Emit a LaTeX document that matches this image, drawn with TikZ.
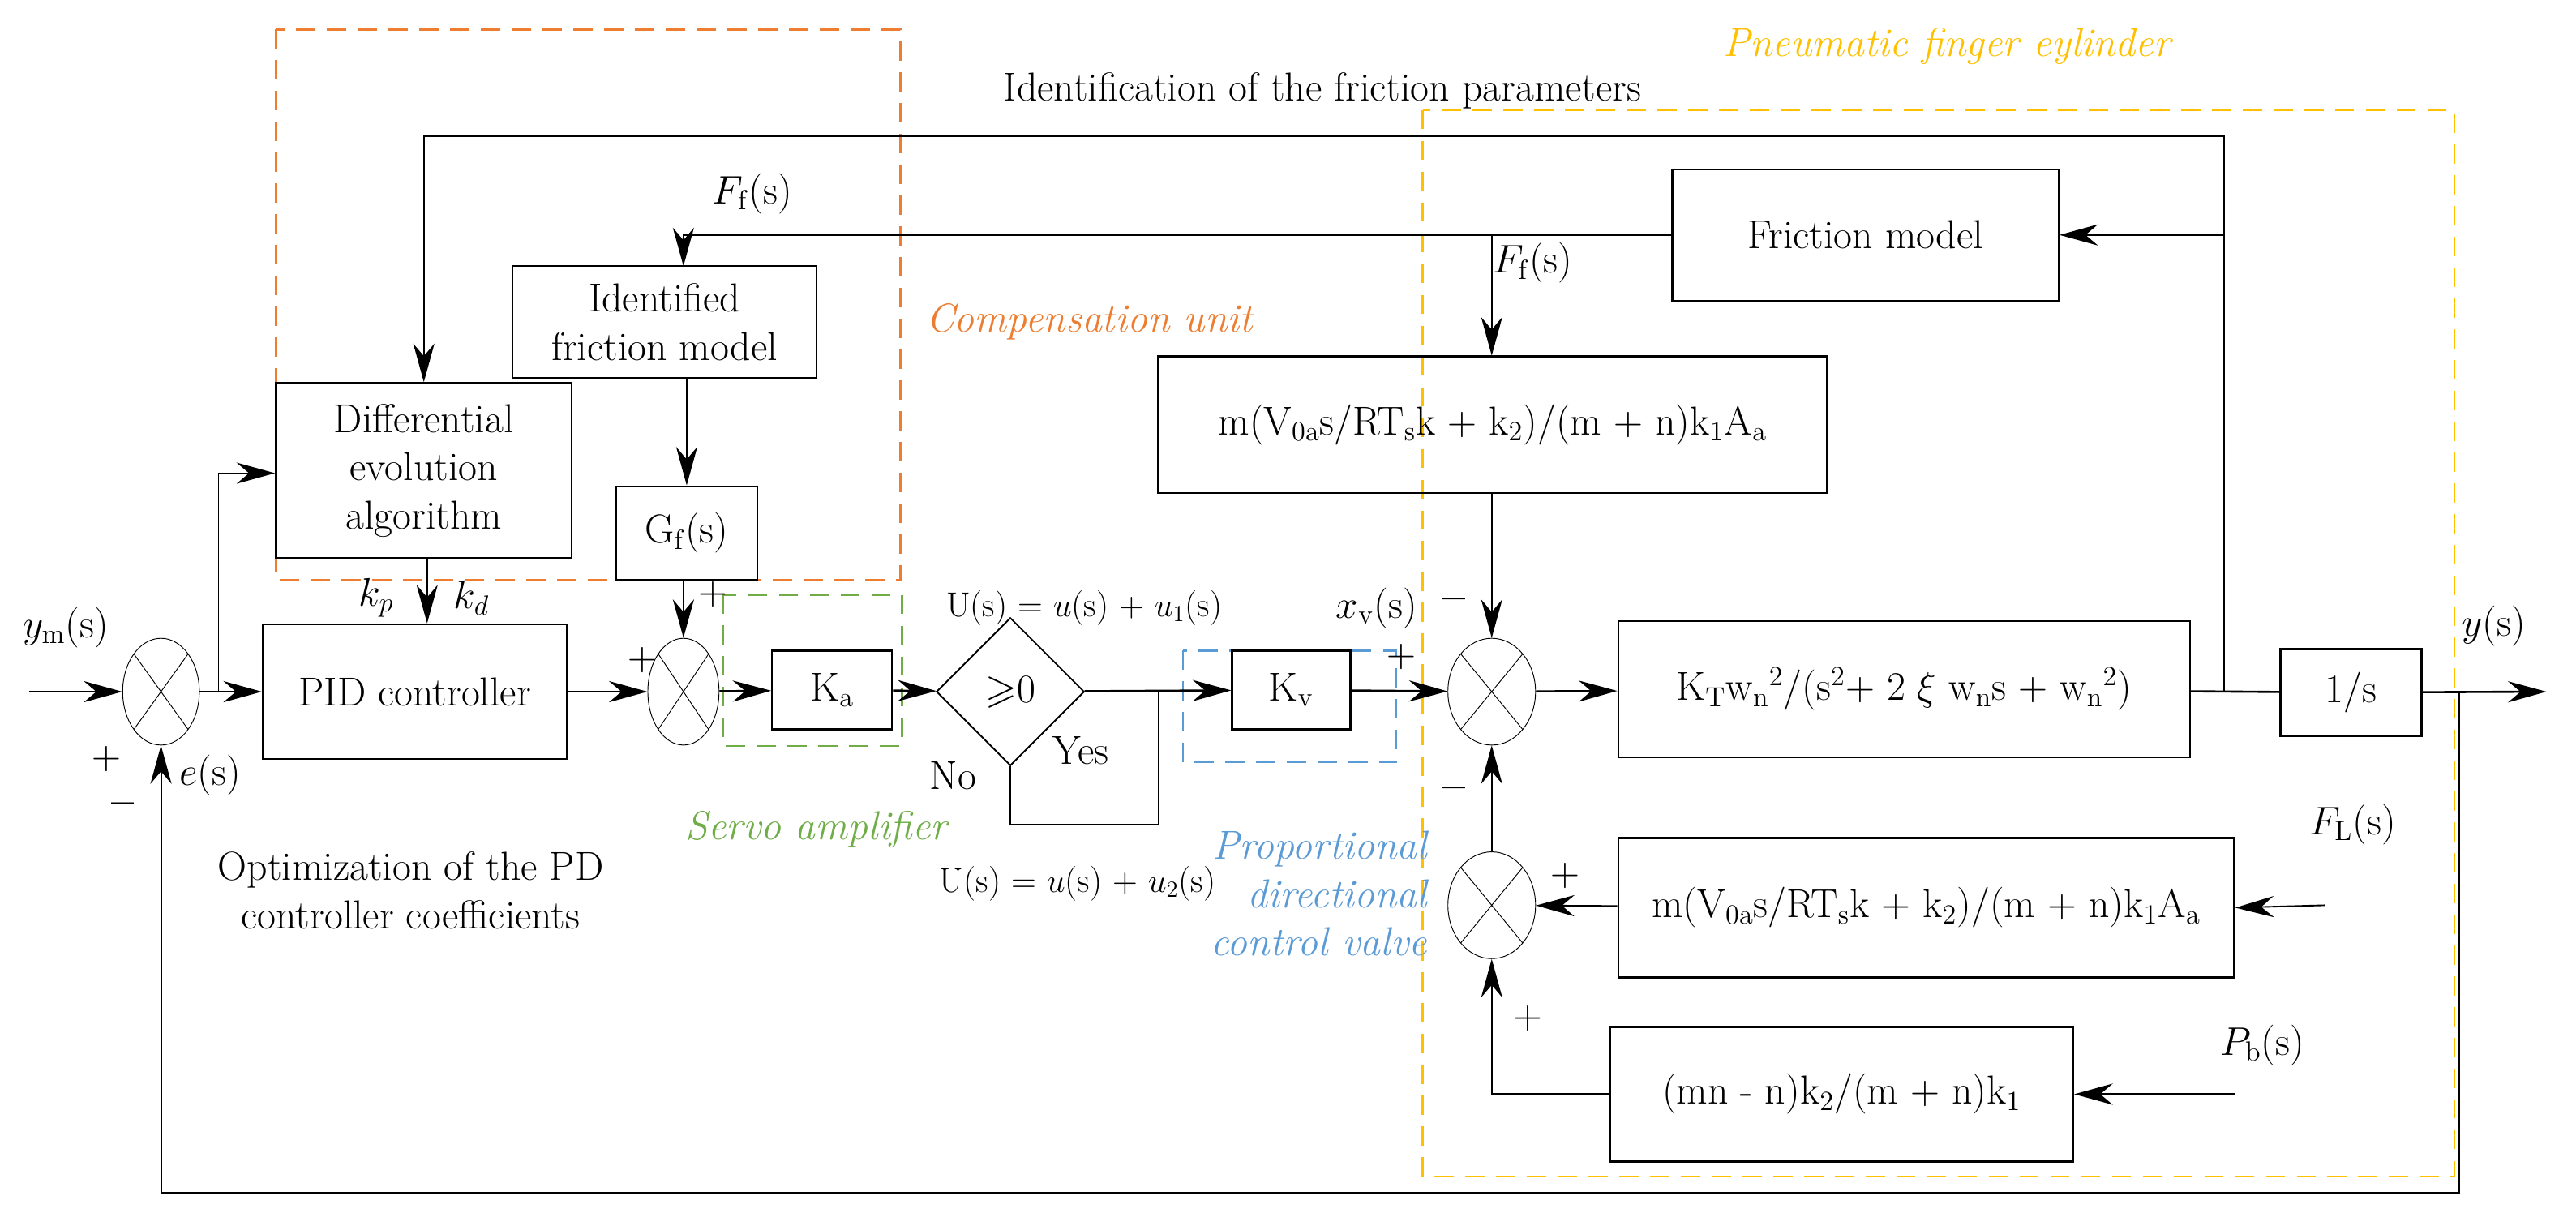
\documentclass[tikz,border=0pt]{standalone}
\usepackage{amssymb}
\usetikzlibrary{arrows.meta,shapes.geometric}
\definecolor{cor}{RGB}{237,125,49}
\definecolor{cgr}{RGB}{112,173,71}
\definecolor{cbl}{RGB}{91,155,213}
\definecolor{cye}{RGB}{255,192,0}
\begin{document}
\begin{tikzpicture}[x=0.03cm,y=-0.03cm,
  font=\fontsize{21}{25}\selectfont,
  blk/.style={draw,line width=1pt,minimum width=#1,align=center,inner sep=0pt},
  sum/.style={draw,ellipse,minimum width=1.4cm,minimum height=1.95cm,inner sep=0pt,
    path picture={\draw (path picture bounding box.north west)--(path picture bounding box.south east)
      (path picture bounding box.north east)--(path picture bounding box.south west);}},
  ar/.style={-{Stealth[length=20pt,width=11pt]},line width=1.1pt},
  ln/.style={line width=0.8pt},
  dsh/.style={dashed,dash pattern=on 10pt off 6pt,line width=1pt},
  lab/.style={inner sep=1pt},
  sm/.style={lab,font=\fontsize{18}{22}\selectfont},
  it/.style={lab,font=\fontsize{21}{25}\selectfont\itshape}]
\useasboundingbox (0,0) rectangle (1568,746);
% dashed regions
\draw[dsh,cor] (168,18) rectangle (548,353);
\draw[dsh,cye] (866,67) rectangle (1494,716);
\draw[dsh,cgr] (440,362) rectangle (549,454);
\draw[dsh,cbl] (720,396) rectangle (850,464);
\node[lab] (title) at (805,55) {Identification of the friction parameters};
\node[it,cye] (tpn) at (1185,28) {Pneumatic finger eylinder};
\node[it,cor] (tcu) at (663,196) {Compensation unit};
\node[it,cgr] (tsa) at (497,505) {Servo amplifier};
\node[it,cbl,align=right,anchor=east] (tpv) at (870,544) {Proportional\\directional\\control valve};
\node[lab,align=center] (topt) at (250,542) {Optimization of the PD\\controller coefficients};
% blocks
\node[sum] (s1) at (98,421) {};
\node[blk=5.55cm,minimum height=2.46cm] (pid) at (252.5,421) {PID controller};
\node[blk=5.4cm,minimum height=3.2cm] (de) at (258,286.5) {Differential\\evolution\\algorithm};
\node[blk=5.55cm,minimum height=2.04cm] (idf) at (404.5,196) {Identified\\friction model};
\node[blk=2.58cm,minimum height=1.71cm] (gf) at (418,324.5) {G$_{\mathrm{f}}$(s)};
\node[sum,minimum width=1.3cm] (s2) at (416,421) {};
\node[blk=2.19cm,minimum height=1.44cm] (ka) at (506.5,420) {K$_{\mathrm{a}}$};
\node[draw,diamond,aspect=1,minimum size=2.7cm,inner sep=0pt,line width=0.8pt] (dia) at (615,421) {$\geqslant$0};
\node[blk=2.16cm,minimum height=1.44cm] (kv) at (786,420) {K$_{\mathrm{v}}$};
\node[sum,minimum width=1.6cm] (s3) at (908,421) {};
\node[blk=12.21cm,minimum height=2.49cm] (b1) at (908.5,258.5) {m(V$_{\mathrm{0a}}$s/RT$_{\mathrm{s}}$k + k$_2$)/(m + n)k$_1$A$_{\mathrm{a}}$};
\node[blk=7.05cm,minimum height=2.4cm] (fm) at (1135.5,143) {Friction model};
\node[blk=10.44cm,minimum height=2.49cm] (kt) at (1159,419.5) {K$_{\mathrm{T}}$w$_{\mathrm{n}}$$^2$/(s$^2$+ 2 $\xi$ w$_{\mathrm{n}}$s + w$_{\mathrm{n}}$$^2$)};
\node[blk=2.58cm,minimum height=1.59cm] (is) at (1431,421.5) {1/s};
\node[sum,minimum width=1.6cm] (s4) at (908,551) {};
\node[blk=11.25cm,minimum height=2.55cm] (b2) at (1172.5,552.5) {m(V$_{\mathrm{0a}}$s/RT$_{\mathrm{s}}$k + k$_2$)/(m + n)k$_1$A$_{\mathrm{a}}$};
\node[blk=8.46cm,minimum height=2.46cm] (b3) at (1121,666) {(mn - n)k$_2$/(m + n)k$_1$};
% coordinates
\coordinate (in) at (18,421);
\coordinate (out) at (1550,421);
\coordinate (br1) at (133,421);
\coordinate (br2) at (1354,421);
\coordinate (br3) at (1497,421);
\coordinate (fl) at (1415,551);
\coordinate (pb) at (1360,666);
\coordinate (br4) at (705,421);
% connectors
\draw[ar] (in) -- (s1);
\draw[ar] (s1) -- (pid);
\draw[ar,ln] (br1) |- (de.west |- 0,288);
\draw[ar] (de.south -| 260,0) -- (pid.north -| 260,0);
\draw[ar] (pid) -- (s2);
\draw[ar,ln] (gf.south -| s2) -- (s2);
\draw[ar,ln] (idf.south -| gf) -- (gf);
\draw[ar] (s2) -- (ka);
\draw[ar] (ka) -- (dia);
\draw[ar] (dia) -- (kv);
\draw[ln] (br4) |- (615,502) -- (dia.south);
\draw[ar] (kv) -- (s3);
\draw[ar,ln] (b1.south -| s3) -- (s3);
\draw[ar] (s3) -- (kt);
\draw[line width=1.1pt] (kt) -- (is);
\draw[ar] (is) -- (out);
\draw[ar,ln] (br2) |- (258,83) -- (de.north);
\draw[ar,ln] (1354,143) -- (fm.east);
\draw[ar,ln] (fm.west) -| (416,162);
\draw[ar,ln] (908,143) -- (b1.north -| 908,0);
\draw[ar,ln] (br3) |- (98,726) -- (s1.south);
\draw[ar,ln] (s4) -- (s3);
\draw[ar,ln] (b2) -- (s4);
\draw[ar,ln] (fl) -- (b2.east);
\draw[ar,ln] (pb) -- (b3.east);
\draw[ar,ln] (b3.west) -| (s4.south);
% labels
\node[lab] (lym) at (40,382) {$y_{\mathrm{m}}$(s)};
\node[lab] (lp1) at (65,462) {+};
\node[lab] (lm1) at (75,492) {\textbf{--}};
\node[lab] (les) at (128,472) {$e$(s)};
\node[lab] (lkp) at (229,364) {$k_p$};
\node[lab] (lkd) at (287,364) {$k_d$};
\node[lab] (lff1) at (458,118) {$F_{\mathrm{f}}$(s)};
\node[lab] (lff2) at (933,160) {$F_{\mathrm{f}}$(s)};
\node[lab] (lp2) at (434,362) {+};
\node[lab] (lp3) at (391,402) {+};
\node[sm] (lu1) at (660,370) {U(s) = $u$(s) + $u_1$(s)};
\node[sm] (lu2) at (656,538) {U(s) = $u$(s) + $u_2$(s)};
\node[lab] (lno) at (580,472) {No};
\node[lab] (lyes) at (658,457) {Yes};
\node[lab] (lxv) at (838,370) {$x_{\mathrm{v}}$(s)};
\node[lab] (lp4) at (853,400) {+};
\node[lab] (lm2) at (885,368) {\textbf{--}};
\node[lab] (lm3) at (885,483) {\textbf{--}};
\node[lab] (lys) at (1518,381) {$y$(s)};
\node[lab] (lfl) at (1432,502) {$F_{\mathrm{L}}$(s)};
\node[lab] (lp5) at (953,533) {+};
\node[lab] (lp6) at (930,620) {+};
\node[lab] (lpb) at (1377,636) {$P_{\mathrm{b}}$(s)};
\end{tikzpicture}
\end{document}
